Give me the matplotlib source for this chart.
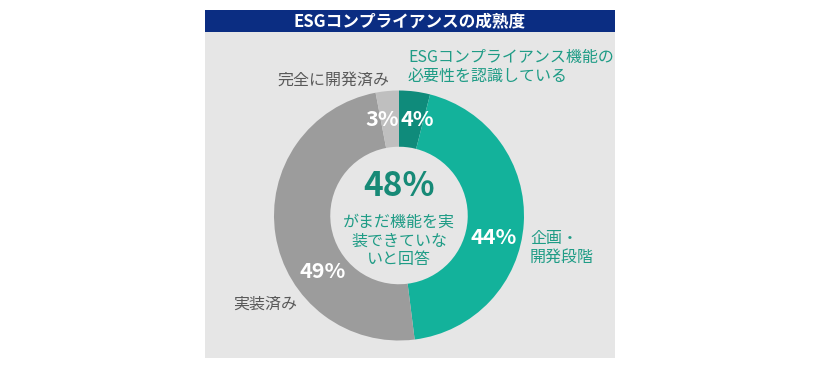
import matplotlib
matplotlib.use("Agg")
import matplotlib.pyplot as plt
from matplotlib.patches import Rectangle

plt.rcParams['font.family'] = ['Noto Sans CJK JP', 'DejaVu Sans']

# data (clockwise from 12 o'clock)
segments = ['ESGコンプライアンス機能の必要性を認識している', '企画・開発段階', '実装済み', '完全に開発済み']
shares = [4, 44, 49, 3]
pct_labels = ['4%', '44%', '49%', '3%']
seg_colors = ['#0f8b7b', '#13b29b', '#9c9c9c', '#bfbfbf']
title = 'ESGコンプライアンスの成熟度'
center_value = '48%'
center_text = 'がまだ機能を実\n装できていな\nいと回答'

W, H = 820, 370
fig = plt.figure(figsize=(W / 100, H / 100), dpi=100)
fig.patch.set_facecolor('white')

# background panel and title bar (pixel coords -> figure fraction)
def px(x, y):
    return x / W, 1 - y / H

fig.patches.append(Rectangle(px(205, 358), 410 / W, 348 / H, transform=fig.transFigure,
                             facecolor='#e6e6e6', edgecolor='none', zorder=-2))
fig.patches.append(Rectangle(px(205, 32), 410 / W, 22 / H, transform=fig.transFigure,
                             facecolor='#0b2d82', edgecolor='none', zorder=-1))
fig.text(*px(410, 21), title, color='white', fontsize=12, fontweight='bold',
         ha='center', va='center')

# donut: centre (399, 215.5) px, radius 125 px
cx, cy, R = 399, 215.5, 125
ax = fig.add_axes([(cx - R) / W, (H - cy - R) / H, 2 * R / W, 2 * R / H])
ax.pie(shares, colors=seg_colors, startangle=90, counterclock=False,
       wedgeprops=dict(width=0.45, linewidth=0))
ax.set_xlim(-1, 1)
ax.set_ylim(-1, 1)
ax.set_aspect('equal')
ax.axis('off')

def d(x, y):
    # pixel position -> pie data coords
    return (x - cx) / R, (cy - y) / R

# percentage labels on the ring
pct_pos = [(417, 119), (494, 238), (323, 271), (382, 119)]
for lab, (x, y) in zip(pct_labels, pct_pos):
    ax.text(*d(x, y), lab, color='white', fontsize=15.5, fontweight='bold',
            ha='center', va='center')

# outside category labels
teal_txt = '#1f9c86'
gray_txt = '#595959'
ax.text(*d(408, 67), 'ESGコンプライアンス機能の\n必要性を認識している', color=teal_txt,
        fontsize=11.5, ha='left', va='center', linespacing=1.2, clip_on=False)
ax.text(*d(389, 80), segments[3], color=gray_txt, fontsize=11.5,
        ha='right', va='center', clip_on=False)
ax.text(*d(530, 248), '企画・\n開発段階', color=teal_txt, fontsize=11.5,
        ha='left', va='center', linespacing=1.2, clip_on=False)
ax.text(*d(233, 304), segments[2], color=gray_txt, fontsize=11.5,
        ha='left', va='center', clip_on=False)

# centre text
ax.text(*d(399, 187), center_value, color='#178a77', fontsize=24, fontweight='bold',
        ha='center', va='center')
ax.text(*d(399, 241), center_text, color=teal_txt, fontsize=11.5,
        ha='center', va='center', linespacing=1.15)

fig.savefig('out.png', dpi=100)
